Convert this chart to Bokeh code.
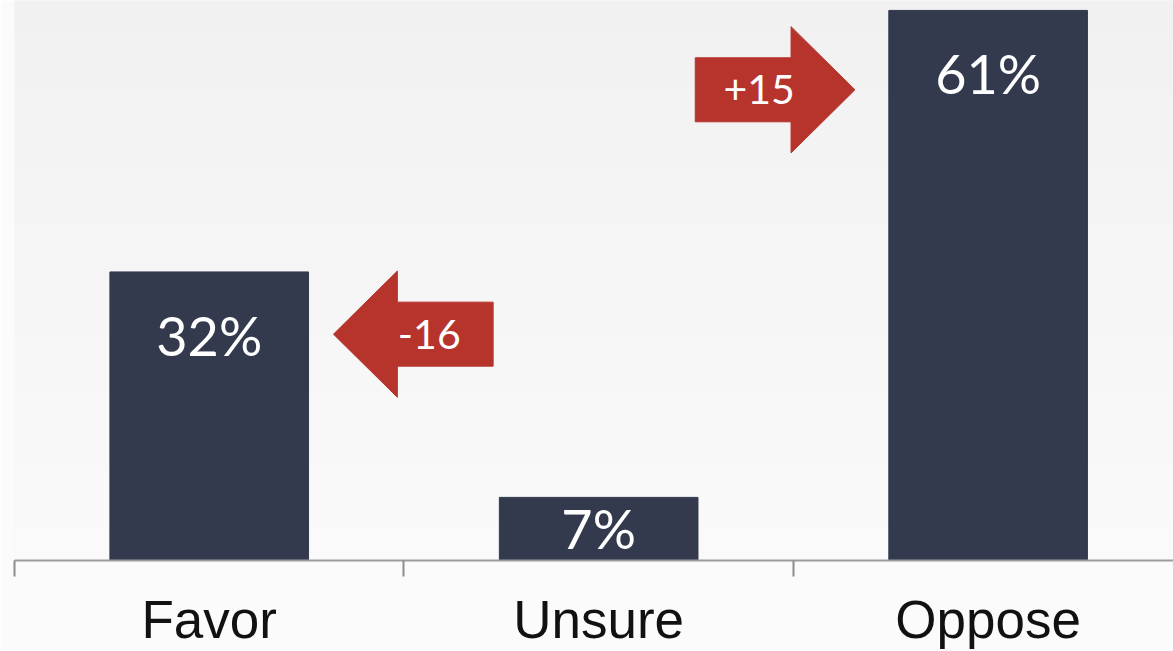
from bokeh.plotting import figure
from bokeh.models import Range1d, FixedTicker, ColumnDataSource, BoxAnnotation
from bokeh.core.properties import value
from bokeh.embed import file_html
from bokeh.resources import INLINE

# ---- data ----
categories = ["Favor", "Unsure", "Oppose"]
percents = [32, 7, 61]
changes = [-16, None, 15]
change_labels = ["-16", "", "+15"]

# ---- style ----
BAR_COLOR = "#333a4e"
ARROW_COLOR = "#b6342c"
BAR_WIDTH = 0.51
ARROW_LEN = 0.41
ARROW_HEAD = 0.164
ARROW_SHAFT_HALF = 3.55
ARROW_HEAD_HALF = 7.0
ARROW_GAP = [0.064, 0.0, 0.087]
ARROW_DROP = [6.9, 0.0, 8.8]
Y_END = 62.1

n = len(categories)
centers = [i + 0.5 for i in range(n)]
bounds = list(range(n + 1))

p = figure(width=1173, height=651,
           x_range=Range1d(0, 2.976), y_range=Range1d(0, Y_END),
           output_backend="svg", toolbar_location=None,
           y_axis_location=None,
           min_border_left=14, min_border_right=0, min_border_top=0, min_border_bottom=0)

p.background_fill_color = "#f6f6f6"
p.border_fill_color = "#fbfbfb"
p.outline_line_color = None
p.xgrid.visible = False
p.ygrid.visible = False

# background gradient bands
nb = 30
top_c = (241, 241, 241)
bot_c = (250, 250, 250)
for k in range(nb):
    t = k / (nb - 1)
    c = tuple(int(round(top_c[j] + (bot_c[j] - top_c[j]) * t)) for j in range(3))
    y1 = Y_END - k * Y_END / nb
    y0 = Y_END - (k + 1) * Y_END / nb
    p.add_layout(BoxAnnotation(bottom=y0, top=y1 + 0.05, fill_color="#%02x%02x%02x" % c,
                               fill_alpha=1.0, line_color=None, level="underlay"))

# bars
src = ColumnDataSource(dict(x=centers, top=percents, cat=categories))
p.vbar(x="x", top="top", width=BAR_WIDTH, source=src, fill_color=BAR_COLOR, line_color=BAR_COLOR)

# bar labels
label_y = [v - 7 if v > 14 else v / 2 for v in percents]
p.text(x=centers, y=label_y, text=[f"{v}%" for v in percents],
       text_align="center", text_baseline="middle", text_color="white",
       text_font=value("Lato"), text_font_size="54px")

# arrows
xs, ys, tx, ty, tt = [], [], [], [], []
for i, ch in enumerate(changes):
    if ch is None:
        continue
    y = percents[i] - ARROW_DROP[i]
    if ch < 0:
        d = -1
        tip = centers[i] + BAR_WIDTH / 2 + ARROW_GAP[i]
    else:
        d = 1
        tip = centers[i] - BAR_WIDTH / 2 - ARROW_GAP[i]
    base = tip - d * ARROW_HEAD
    tail = tip - d * ARROW_LEN
    xs.append([tail, base, base, tip, base, base, tail])
    ys.append([y - ARROW_SHAFT_HALF, y - ARROW_SHAFT_HALF, y - ARROW_HEAD_HALF, y,
               y + ARROW_HEAD_HALF, y + ARROW_SHAFT_HALF, y + ARROW_SHAFT_HALF])
    tx.append(((tail + base) / 2 + (tail + tip) / 2) / 2)
    ty.append(y)
    tt.append(change_labels[i])

p.patches(xs=xs, ys=ys, fill_color=ARROW_COLOR, line_color=ARROW_COLOR)
p.text(x=tx, y=ty, text=tt, text_align="center", text_baseline="middle",
       text_color="white", text_font=value("Lato"), text_font_size="41px")

# x axis: labels at centers, boundary ticks as minor ticks
ax = p.xaxis[0]
ax.ticker = FixedTicker(ticks=centers, minor_ticks=bounds)
ax.major_label_overrides = {c: lab for c, lab in zip(centers, categories)}
ax.axis_line_color = "#9c9c9c"
ax.axis_line_width = 2
ax.major_tick_line_color = None
ax.major_tick_out = 0
ax.major_tick_in = 0
ax.minor_tick_line_color = "#8c8c8c"
ax.minor_tick_line_width = 2
ax.minor_tick_out = 16
ax.minor_tick_in = 0
ax.major_label_standoff = 13
ax.major_label_text_font = "Liberation Sans"
ax.major_label_text_font_size = "53px"
ax.major_label_text_color = "#111111"

open("out.html", "w").write(file_html(p, INLINE))
